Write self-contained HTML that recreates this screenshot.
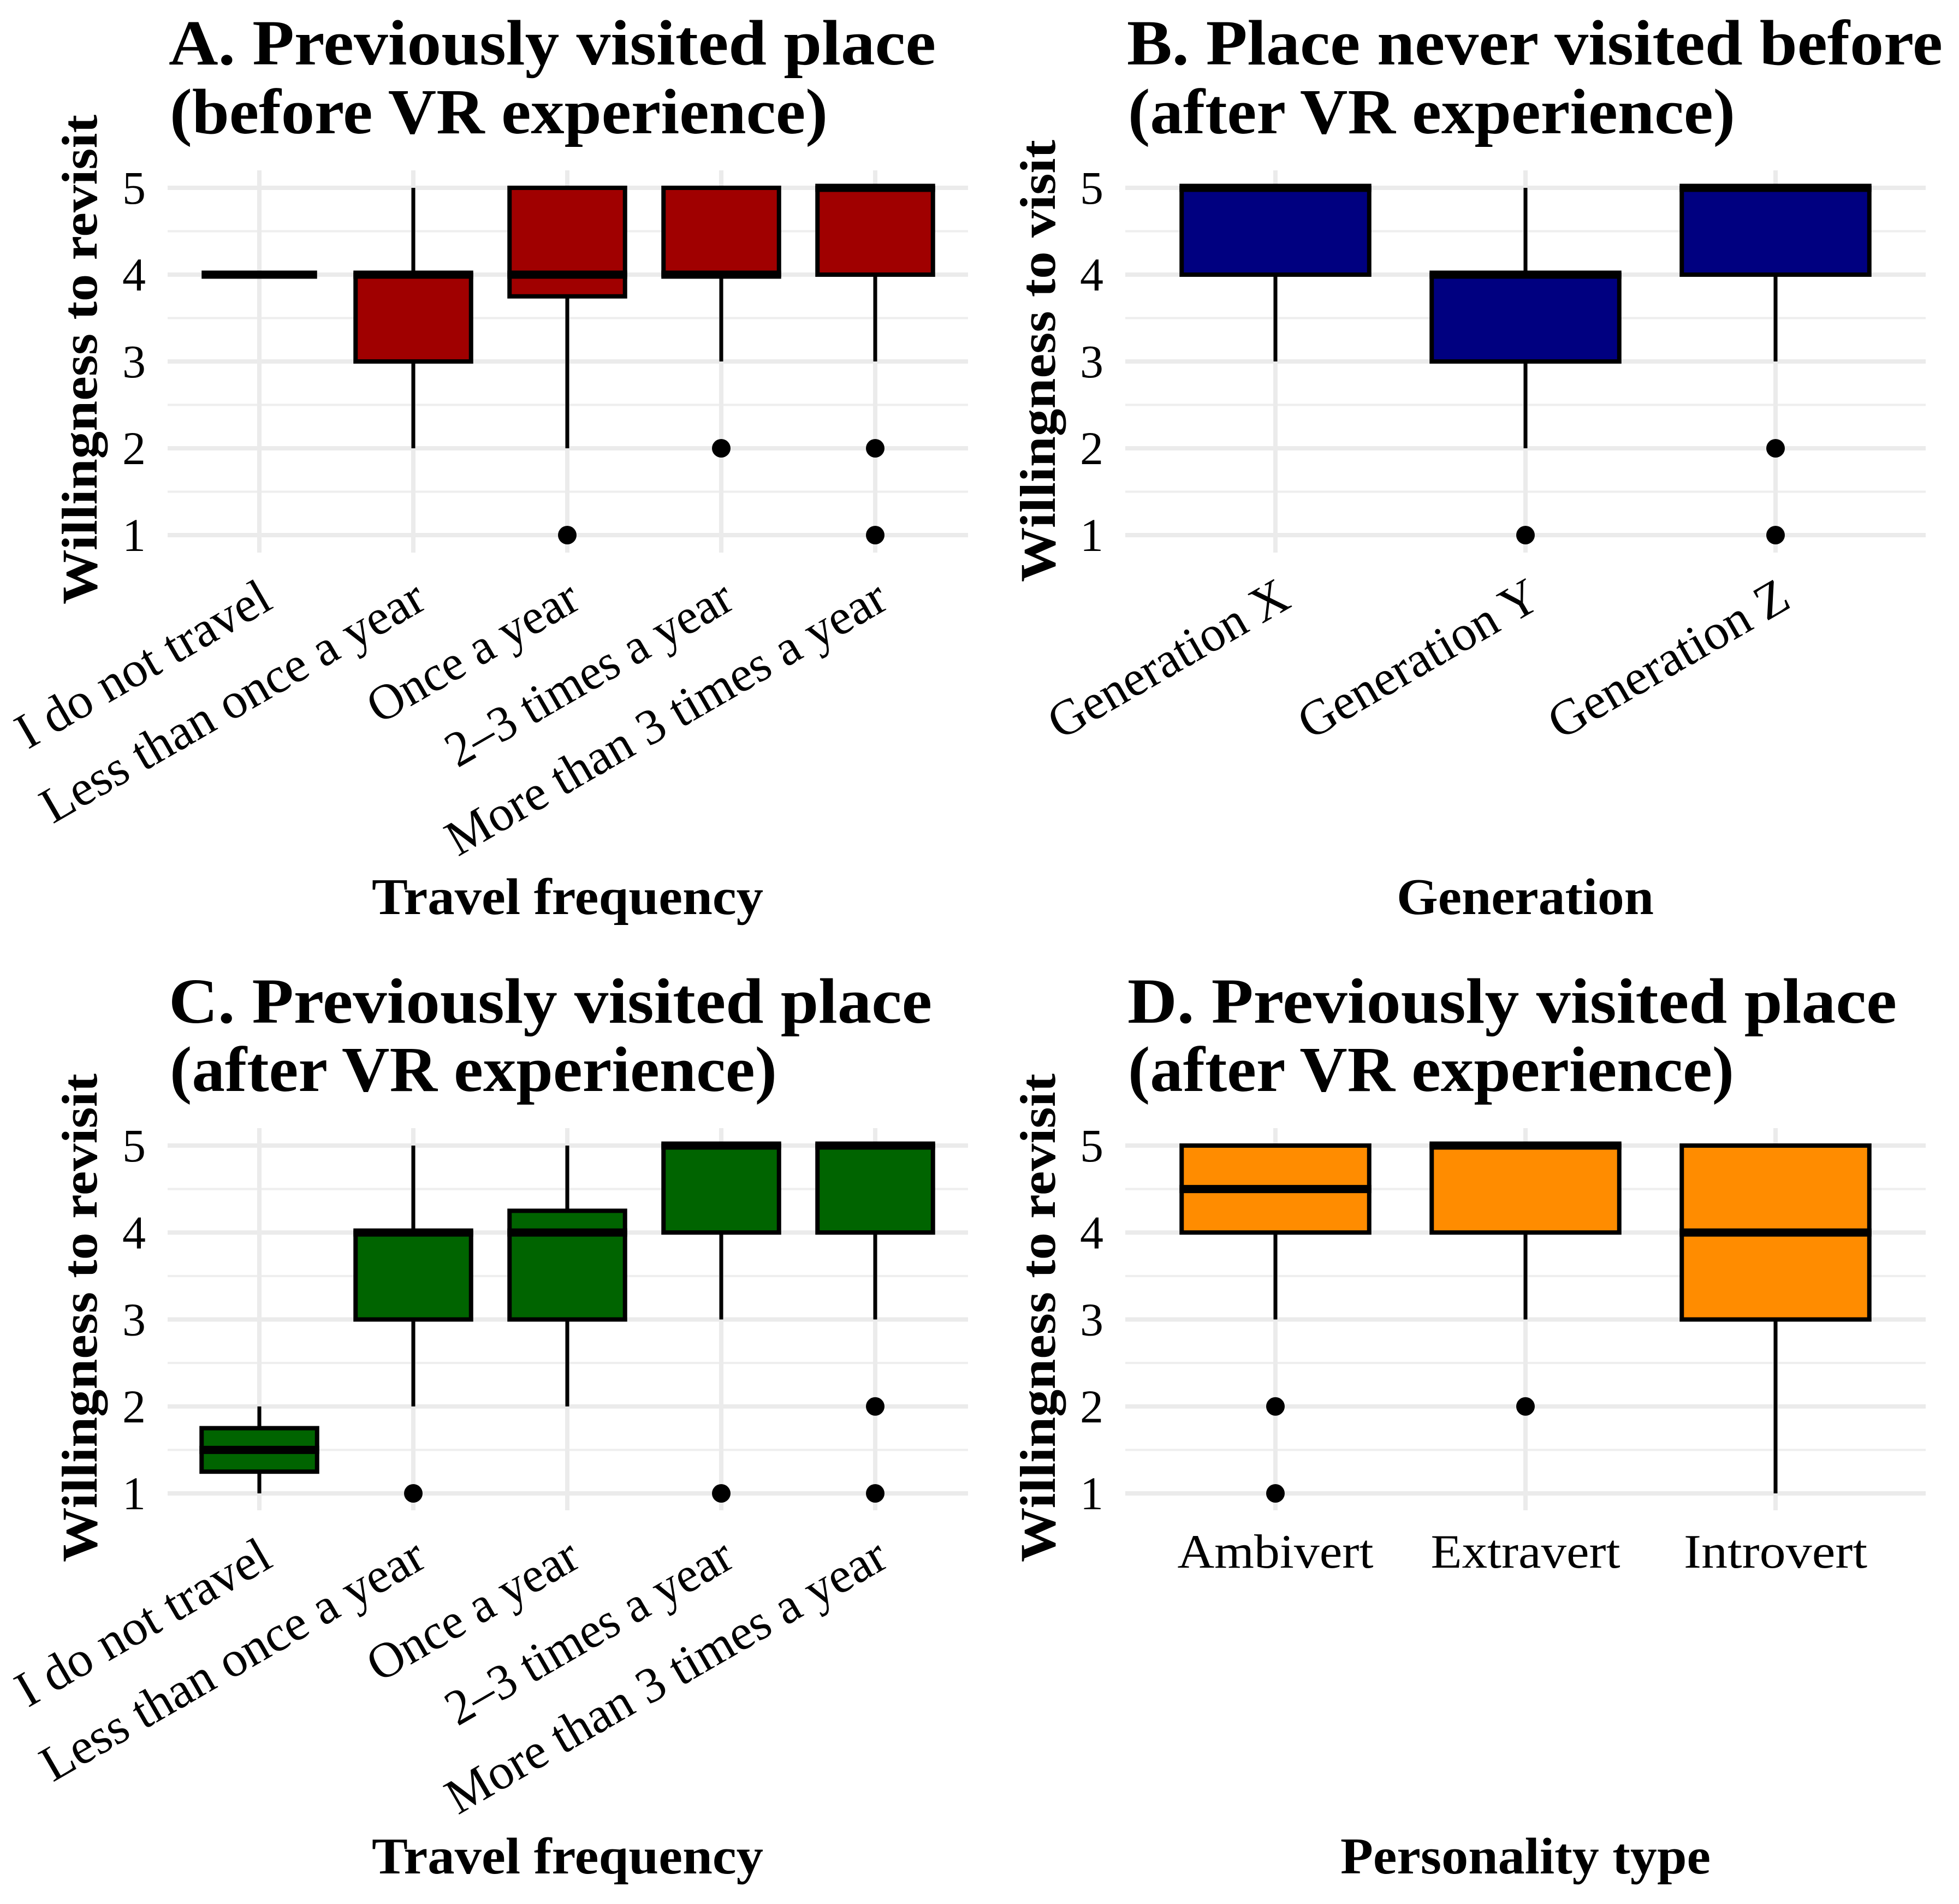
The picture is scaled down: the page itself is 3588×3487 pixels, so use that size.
<!DOCTYPE html>
<html lang="en">
<head>
<meta charset="utf-8">
<title>Willingness to revisit box plots</title>
<style>
html,body{margin:0;padding:0;background:#fff;}
svg{display:block;}
text{font-family:"Liberation Serif",serif;fill:#000;}
.title{font-size:118px;font-weight:bold;}
.axis-title{font-size:94px;font-weight:bold;}
.y-title{font-size:92px;font-weight:bold;}
</style>
</head>
<body>
<svg id="chart" xmlns="http://www.w3.org/2000/svg" width="3588" height="3487" viewBox="0 0 3588 3487">
<rect width="3588" height="3487" fill="#ffffff"/>

<g id="panel-a"></g>
<g id="panel-b"></g>
<g id="panel-c"></g>
<g id="panel-d"></g>

<text class="title" x="309" y="118" textLength="1405" lengthAdjust="spacingAndGlyphs">A. Previously visited place</text>
<text class="title" x="311" y="244" textLength="1205" lengthAdjust="spacingAndGlyphs">(before VR experience)</text>
<text class="title" x="2064" y="118" textLength="1494" lengthAdjust="spacingAndGlyphs">B. Place never visited before</text>
<text class="title" x="2066" y="244" textLength="1112" lengthAdjust="spacingAndGlyphs">(after VR experience)</text>
<text class="title" x="309" y="1873" textLength="1398" lengthAdjust="spacingAndGlyphs">C. Previously visited place</text>
<text class="title" x="311" y="1998" textLength="1112" lengthAdjust="spacingAndGlyphs">(after VR experience)</text>
<text class="title" x="2065" y="1873" textLength="1409" lengthAdjust="spacingAndGlyphs">D. Previously visited place</text>
<text class="title" x="2066" y="1998" textLength="1110" lengthAdjust="spacingAndGlyphs">(after VR experience)</text>

<text class="axis-title" x="681" y="1674" textLength="717" lengthAdjust="spacingAndGlyphs">Travel frequency</text>
<text class="axis-title" x="2558" y="1674" textLength="471" lengthAdjust="spacingAndGlyphs">Generation</text>
<text class="axis-title" x="681" y="3431" textLength="717" lengthAdjust="spacingAndGlyphs">Travel frequency</text>
<text class="axis-title" x="2455" y="3431" textLength="678" lengthAdjust="spacingAndGlyphs">Personality type</text>

<text class="y-title" transform="translate(177 1107) rotate(-90)" textLength="897" lengthAdjust="spacingAndGlyphs">Willingness to revisit</text>
<text class="y-title" transform="translate(1932 1066) rotate(-90)" textLength="810" lengthAdjust="spacingAndGlyphs">Willingness to visit</text>
<text class="y-title" transform="translate(177 2861) rotate(-90)" textLength="895" lengthAdjust="spacingAndGlyphs">Willingness to revisit</text>
<text class="y-title" transform="translate(1932 2861) rotate(-90)" textLength="895" lengthAdjust="spacingAndGlyphs">Willingness to revisit</text>
</svg>

<script>
var yTickLabels = [1, 2, 3, 4, 5];
var yMinorTicks = [1.5, 2.5, 3.5, 4.5];

var travelCategories = ["I do not travel", "Less than once a year", "Once a year", "2\u20133 times a year", "More than 3 times a year"];
var generationCategories = ["Generation X", "Generation Y", "Generation Z"];
var personalityCategories = ["Ambivert", "Extravert", "Introvert"];

var panelAQ1 = [4, 3, 3.75, 4, 4];
var panelAMedian = [4, 4, 4, 4, 5];
var panelAQ3 = [4, 4, 5, 5, 5];
var panelALow = [4, 2, 2, 3, 3];
var panelAHigh = [4, 5, 5, 5, 5];
var panelAOutliers = [[], [], [1], [2], [2, 1]];

var panelBQ1 = [4, 3, 4];
var panelBMedian = [5, 4, 5];
var panelBQ3 = [5, 4, 5];
var panelBLow = [3, 2, 3];
var panelBHigh = [5, 5, 5];
var panelBOutliers = [[], [1], [2, 1]];

var panelCQ1 = [1.25, 3, 3, 4, 4];
var panelCMedian = [1.5, 4, 4, 5, 5];
var panelCQ3 = [1.75, 4, 4.25, 5, 5];
var panelCLow = [1, 2, 2, 3, 3];
var panelCHigh = [2, 5, 5, 5, 5];
var panelCOutliers = [[], [1], [], [1], [2, 1]];

var panelDQ1 = [4, 4, 3];
var panelDMedian = [4.5, 5, 4];
var panelDQ3 = [5, 5, 5];
var panelDLow = [3, 3, 1];
var panelDHigh = [5, 5, 5];
var panelDOutliers = [[2, 1], [2], []];

var SVGNS = "http://www.w3.org/2000/svg";

function make(parent, tag, attrs) {
  var el = document.createElementNS(SVGNS, tag);
  for (var k in attrs) { el.setAttribute(k, attrs[k]); }
  parent.appendChild(el);
  return el;
}

function drawPanel(opts) {
  var root = document.getElementById(opts.id);
  var left = opts.left, right = opts.right, top = opts.top, bottom = opts.bottom;
  var y1 = opts.y1, y5 = opts.y5;

  function yScale(v) { return y1 + (v - 1) * (y5 - y1) / 4; }
  function xScale(i) { return opts.x0 + i * opts.xStep; }
  var boxWidth = opts.xStep * 0.75;

  yMinorTicks.forEach(function (v) {
    var el = make(root, "line", {x1: left, x2: right, y1: yScale(v), y2: yScale(v), stroke: "#eeeeee", "stroke-width": 4});
    
    
  });
  yTickLabels.forEach(function (v) {
    var el = make(root, "line", {x1: left, x2: right, y1: yScale(v), y2: yScale(v), stroke: "#ebebeb", "stroke-width": 8});
    
    
    var t = make(root, "text", {x: left - 40, y: yScale(v) + 29, "text-anchor": "end", "font-size": 86});
    t.textContent = String(v);
    
    
  });

  opts.categories.forEach(function (cat, i) {
    var cx = xScale(i);
    var grid = make(root, "line", {x1: cx, x2: cx, y1: top, y2: bottom, stroke: "#ebebeb", "stroke-width": 8});
    
    
  });

  opts.categories.forEach(function (cat, i) {
    var cx = xScale(i);
    var whisker = make(root, "line", {x1: cx, x2: cx, y1: yScale(opts.high[i]), y2: yScale(opts.low[i]), stroke: "#000", "stroke-width": 7});
    
    

    if (opts.q3[i] > opts.q1[i]) {
      var box = make(root, "rect", {
        x: cx - boxWidth / 2, y: yScale(opts.q3[i]),
        width: boxWidth, height: yScale(opts.q1[i]) - yScale(opts.q3[i]),
        fill: opts.color, stroke: "#000", "stroke-width": 8
      });
      
      
    }

    var median = make(root, "line", {x1: cx - boxWidth / 2 - (opts.q3[i] > opts.q1[i] ? 4 : 0), x2: cx + boxWidth / 2 + (opts.q3[i] > opts.q1[i] ? 4 : 0), y1: yScale(opts.median[i]), y2: yScale(opts.median[i]), stroke: "#000", "stroke-width": 15});
    
    

    opts.outliers[i].forEach(function (v) {
      var pt = make(root, "circle", {cx: cx, cy: yScale(v), r: 17, fill: "#000"});
      
      
    });

    var label;
    if (opts.rotated) {
      var ex = cx + opts.labelDx, ey = opts.labelY;
      label = make(root, "text", {
        x: 0, y: 0, "font-size": opts.labelSize, "text-anchor": "end",
        transform: "translate(" + ex + " " + ey + ") rotate(-30)"
      });
    } else {
      label = make(root, "text", {x: cx, y: opts.labelY, "font-size": opts.labelSize, "text-anchor": "middle"});
    }
    label.textContent = cat;
    label.setAttribute('textLength', opts.labelLengths[i]);
    label.setAttribute('lengthAdjust', 'spacingAndGlyphs');
    
    
  });
}

var travelLabelLengths = [522, 795, 430, 590, 915];
var generationLabelLengths = [492, 492, 492];
var personalityLabelLengths = [359, 347, 336];

drawPanel({id: "panel-a", categories: travelCategories, q1: panelAQ1, median: panelAMedian, q3: panelAQ3, low: panelALow, high: panelAHigh, outliers: panelAOutliers,
  color: "#a00000", left: 307, right: 1773, top: 312, bottom: 1012, y1: 980, y5: 344, x0: 475, xStep: 282,
  rotated: true, labelDx: 28, labelY: 1112, labelSize: 92, labelLengths: travelLabelLengths});

drawPanel({id: "panel-b", categories: generationCategories, q1: panelBQ1, median: panelBMedian, q3: panelBQ3, low: panelBLow, high: panelBHigh, outliers: panelBOutliers,
  color: "#000080", left: 2061, right: 3527, top: 312, bottom: 1012, y1: 980, y5: 344, x0: 2336, xStep: 458,
  rotated: true, labelDx: 32, labelY: 1110, labelSize: 92, labelLengths: generationLabelLengths});

drawPanel({id: "panel-c", categories: travelCategories, q1: panelCQ1, median: panelCMedian, q3: panelCQ3, low: panelCLow, high: panelCHigh, outliers: panelCOutliers,
  color: "#006400", left: 307, right: 1773, top: 2066, bottom: 2766, y1: 2735, y5: 2098, x0: 475, xStep: 282,
  rotated: true, labelDx: 28, labelY: 2867, labelSize: 92, labelLengths: travelLabelLengths});

drawPanel({id: "panel-d", categories: personalityCategories, q1: panelDQ1, median: panelDMedian, q3: panelDQ3, low: panelDLow, high: panelDHigh, outliers: panelDOutliers,
  color: "#ff8c00", left: 2061, right: 3527, top: 2066, bottom: 2766, y1: 2735, y5: 2098, x0: 2336, xStep: 458,
  rotated: false, labelY: 2871, labelSize: 88, labelLengths: personalityLabelLengths});
</script>
</body>
</html>
